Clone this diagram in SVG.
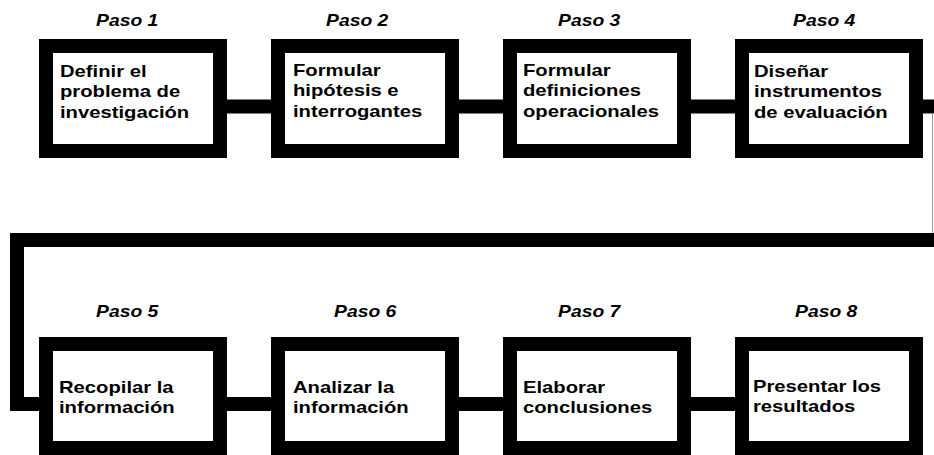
<svg xmlns="http://www.w3.org/2000/svg" width="934" height="455" viewBox="0 0 934 455">
<style>
.box{fill:#fff;stroke:#000;stroke-width:14}
.con{fill:none;stroke:#000;stroke-width:14;stroke-linejoin:miter}
.step{font-family:"Liberation Sans",Arial,sans-serif;font-weight:bold;font-style:italic;font-size:16px;fill:#000}
.lbl{font-family:"Liberation Sans",Arial,sans-serif;font-weight:bold;font-size:17px;fill:#000}
</style>
<rect width="934" height="455" fill="#fff"/>
<g id="connectors">
<line class="con" x1="227" y1="106.5" x2="271" y2="106.5"/>
<line class="con" x1="459" y1="106.5" x2="503" y2="106.5"/>
<line class="con" x1="691" y1="106.5" x2="735" y2="106.5"/>
<line class="con" x1="923" y1="106.5" x2="934" y2="106.5"/>
<line x1="932.5" y1="113" x2="932.5" y2="233" stroke="#999" stroke-width="1"/>
<path class="con" d="M934 240 H17 V404 H39"/>
<line class="con" x1="227" y1="404" x2="271" y2="404"/>
<line class="con" x1="459" y1="404" x2="503" y2="404"/>
<line class="con" x1="691" y1="404" x2="735" y2="404"/>
</g>
<g id="paso1">
<rect class="box" x="46" y="46" width="174" height="105"/>
<text class="step" transform="translate(96,26) scale(1.21,1)">Paso 1</text>
<g transform="translate(60,0) scale(1.19,1)">
<text class="lbl" y="77">Definir el</text>
<text class="lbl" y="97.5">problema de</text>
<text class="lbl" y="118">investigación</text>
</g>
</g>
<g id="paso2">
<rect class="box" x="278" y="46" width="174" height="105"/>
<text class="step" transform="translate(326,26) scale(1.21,1)">Paso 2</text>
<g transform="translate(293,0) scale(1.19,1)">
<text class="lbl" y="76">Formular</text>
<text class="lbl" y="96.5">hipótesis e</text>
<text class="lbl" y="117">interrogantes</text>
</g>
</g>
<g id="paso3">
<rect class="box" x="510" y="46" width="174" height="105"/>
<text class="step" transform="translate(558,26) scale(1.21,1)">Paso 3</text>
<g transform="translate(523,0) scale(1.19,1)">
<text class="lbl" y="76">Formular</text>
<text class="lbl" y="96.5">definiciones</text>
<text class="lbl" y="117">operacionales</text>
</g>
</g>
<g id="paso4">
<rect class="box" x="742" y="46" width="174" height="105"/>
<text class="step" transform="translate(793,26) scale(1.21,1)">Paso 4</text>
<g transform="translate(754,0) scale(1.19,1)">
<text class="lbl" y="77">Diseñar</text>
<text class="lbl" y="97.5">instrumentos</text>
<text class="lbl" y="118">de evaluación</text>
</g>
</g>
<g id="paso5">
<rect class="box" x="46" y="344" width="174" height="104"/>
<text class="step" transform="translate(96,317) scale(1.21,1)">Paso 5</text>
<g transform="translate(59,0) scale(1.19,1)">
<text class="lbl" y="393">Recopilar la</text>
<text class="lbl" y="413">información</text>
</g>
</g>
<g id="paso6">
<rect class="box" x="278" y="344" width="174" height="104"/>
<text class="step" transform="translate(334,317) scale(1.21,1)">Paso 6</text>
<g transform="translate(293,0) scale(1.19,1)">
<text class="lbl" y="393.5">Analizar la</text>
<text class="lbl" y="413.5">información</text>
</g>
</g>
<g id="paso7">
<rect class="box" x="510" y="344" width="174" height="104"/>
<text class="step" transform="translate(558,317) scale(1.21,1)">Paso 7</text>
<g transform="translate(523,0) scale(1.19,1)">
<text class="lbl" y="393.5">Elaborar</text>
<text class="lbl" y="413.5">conclusiones</text>
</g>
</g>
<g id="paso8">
<rect class="box" x="742" y="344" width="174" height="104"/>
<text class="step" transform="translate(795,317) scale(1.21,1)">Paso 8</text>
<g transform="translate(753,0) scale(1.19,1)">
<text class="lbl" y="392">Presentar los</text>
<text class="lbl" y="412">resultados</text>
</g>
</g>
</svg>
